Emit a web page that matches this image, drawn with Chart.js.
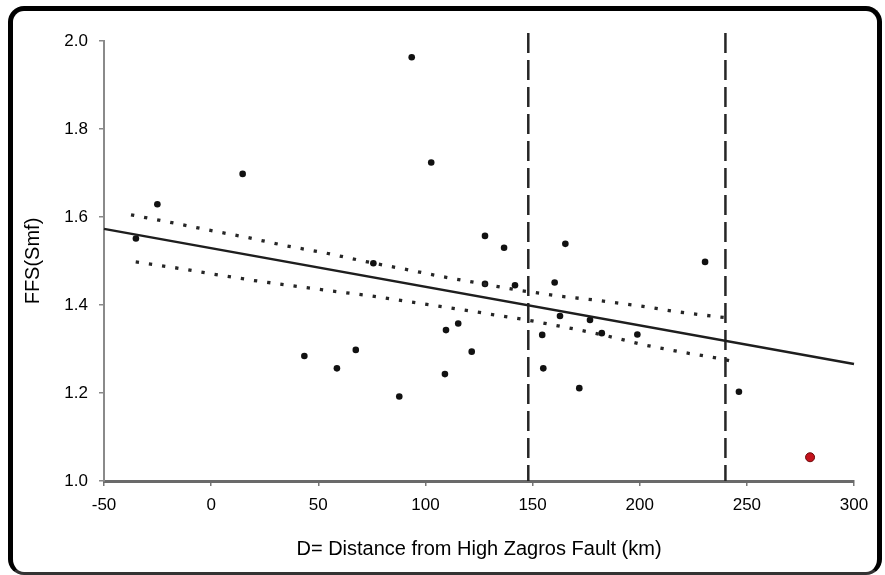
<!DOCTYPE html>
<html>
<head>
<meta charset="utf-8">
<title>FFS vs distance from High Zagros Fault</title>
<script src="https://cdn.jsdelivr.net/npm/chart.js@4.4.1/dist/chart.umd.min.js"></script>
<style>
    html, body { margin: 0; padding: 0; background: #fff; }
    #wrap { position: relative; width: 885px; height: 575px; }
    #frame {
        position: absolute; left: 8px; top: 6px; width: 874px; height: 569px;
        box-sizing: border-box; border: 5px solid #000; border-bottom: 3px solid #333;
        border-radius: 16px; pointer-events: none;
    }
    #ffs-chart { position: absolute; left: 0; top: 0; }
</style>
</head>
<body>
<div id="wrap">
    <canvas id="ffs-chart" width="885" height="575"></canvas>
    <div id="frame"></div>
</div>
<script>
// measured basins: distance (km) and FFS(Smf)
const distance = [-35.1, -25.1, 14.7, 43.5, 58.7, 67.5, 75.7, 87.8, 93.6, 102.7,
    109.6, 109.1, 115.3, 121.6, 127.8, 127.8, 136.7, 141.8, 154.5, 155.0,
    160.3, 165.3, 162.8, 171.8, 176.8, 182.3, 198.9, 230.5, 246.3];
const ffs = [1.551, 1.629, 1.698, 1.284, 1.256, 1.298, 1.495, 1.192, 1.963, 1.724,
    1.343, 1.243, 1.358, 1.294, 1.557, 1.448, 1.530, 1.445, 1.332, 1.256,
    1.451, 1.539, 1.375, 1.211, 1.366, 1.336, 1.333, 1.498, 1.203];

// the outlier drawn in red
const outlierX = [279.5];
const outlierY = [1.054];

// regression line
const fitX = [-50, 300];
const fitY = [1.573, 1.266];

// confidence band (dotted)
const upperX = [-37.4, -19.2, -0.9, 17.3, 35.5, 53.6, 71.8, 89.7, 108.3, 126.8, 144.9, 162.8, 181.5, 199.8, 218.4, 236.7, 243.0];
const upperY = [1.605, 1.588, 1.570, 1.553, 1.534, 1.518, 1.499, 1.482, 1.464, 1.448, 1.4325, 1.420, 1.410, 1.398, 1.384, 1.373, 1.370];
const lowerX = [-35.2, -17.2, 1.2, 19.4, 37.7, 55.9, 74.5, 92.8, 110.9, 129.2, 147.3, 165.9, 183.8, 202.1, 220.7, 238.7, 244.8];
const lowerY = [1.498, 1.485, 1.470, 1.456, 1.444, 1.432, 1.421, 1.407, 1.394, 1.380, 1.366, 1.349, 1.331, 1.309, 1.292, 1.277, 1.270];

// vertical dashed boundaries (km)
const boundaries = [148, 240];
const boundaryTop = 2.018;

const xTicks = [-50, 0, 50, 100, 150, 200, 250, 300];
const yTicks = [1.0, 1.2, 1.4, 1.6, 1.8, 2.0];

const font = "'Liberation Sans', Arial, sans-serif";

document.addEventListener('DOMContentLoaded', () => {
    const canvas = document.getElementById('ffs-chart');

    const toPoints = (xs, ys) => xs.map((x, i) => ({ x: x, y: ys[i] }));

    function lineSet(data, color, width, dash) {
        return {
            type: 'scatter',
            data: data,
            showLine: true,
            borderColor: color,
            borderWidth: width,
            borderDash: dash || [],
            borderCapStyle: 'butt',
            pointRadius: 0,
            fill: false,
            clip: false
        };
    }

    const datasets = [
        lineSet(toPoints(upperX, upperY), '#262626', 3.3, [3.3, 10]),
        lineSet(toPoints(lowerX, lowerY), '#262626', 3.3, [3.3, 10]),
        lineSet(toPoints(fitX, fitY), '#1e1e1e', 2.5),
        ...boundaries.map(b => lineSet([{ x: b, y: boundaryTop }, { x: b, y: 1.0 }], '#262626', 2.5, [20, 7])),
        {
            type: 'scatter',
            data: toPoints(distance, ffs),
            pointRadius: 3.3,
            pointBackgroundColor: '#111',
            pointBorderColor: '#111',
            pointBorderWidth: 0
        },
        {
            type: 'scatter',
            data: toPoints(outlierX, outlierY),
            pointRadius: 4.5,
            pointBackgroundColor: '#c4121c',
            pointBorderColor: '#6a0a0a',
            pointBorderWidth: 1
        }
    ];

    new Chart(canvas, {
        type: 'scatter',
        data: { datasets: datasets },
        options: {
            responsive: false,
            animation: false,
            layout: { padding: { left: 8, right: 31, top: 41, bottom: 0 } },
            plugins: { legend: { display: false }, tooltip: { enabled: false } },
            scales: {
                x: {
                    type: 'linear',
                    min: -50,
                    max: 300,
                    afterFit: scale => { scale.height = 94; },
                    afterBuildTicks: scale => { scale.ticks = xTicks.map(v => ({ value: v })); },
                    border: { display: true, color: '#6a6a6a', width: 3 },
                    grid: { drawOnChartArea: false, drawTicks: true, tickLength: 5, tickColor: '#777', lineWidth: 1.5 },
                    ticks: { color: '#000', padding: 9, font: { family: font, size: 17 }, callback: v => String(v) },
                    title: {
                        display: true,
                        text: 'D= Distance from High Zagros Fault (km)',
                        color: '#000',
                        font: { family: font, size: 20 },
                        padding: { top: 0, bottom: 14 }
                    }
                },
                y: {
                    type: 'linear',
                    min: 1.0,
                    max: 2.0,
                    afterFit: scale => { scale.width = 96; },
                    afterBuildTicks: scale => { scale.ticks = yTicks.map(v => ({ value: v })); },
                    border: { display: true, color: '#8a8a8a', width: 2 },
                    grid: { drawOnChartArea: false, drawTicks: true, tickLength: 5, tickColor: '#888', lineWidth: 1.5 },
                    ticks: { color: '#000', padding: 11, font: { family: font, size: 17 }, callback: v => v.toFixed(1) },
                    title: {
                        display: true,
                        text: 'FFS(Smf)',
                        color: '#000',
                        font: { family: font, size: 20 },
                        padding: { top: 13, bottom: 0 }
                    }
                }
            }
        }
    });
});
</script>
</body>
</html>
